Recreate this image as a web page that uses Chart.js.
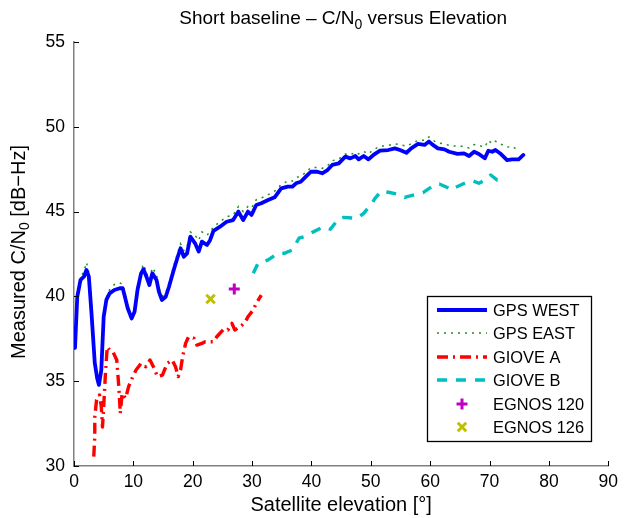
<!DOCTYPE html>
<html><head><meta charset="utf-8">
<script src="https://cdn.jsdelivr.net/npm/chart.js@4/dist/chart.umd.min.js"></script>
<style>html,body{margin:0;padding:0;background:#fff}</style>
</head><body><canvas id="c" width="624" height="518"></canvas>
<script>
// ---- data (elevation in degrees, C/N0 in dB-Hz) ----
const westElev = [0.17,0.55,1.1,1.67,2.1,2.5,2.95,3.5,3.9,4.2,4.6,5.0,5.45,6.0,6.8,7.7,8.2,8.5,9.05,9.7,10.2,10.7,11.3,11.7,12.2,12.7,13.2,13.9,14.3,14.8,15.45,16.0,16.8,17.4,17.95,18.5,19.05,19.6,20.4,21.0,21.55,22.4,22.9,23.5,24.6,25.7,26.8,27.7,28.5,29.3,29.9,30.7,31.55,32.7,33.8,34.9,36.0,36.8,37.4,38.2,39.05,39.9,41.0,41.8,42.7,43.5,44.6,45.7,46.55,47.4,47.95,48.8,49.6,50.45,51.55,52.95,54.05,54.9,56.0,56.8,57.95,59.05,59.8,60.45,61.3,62.4,63.2,64.6,65.7,66.55,67.4,68.2,69.2,69.8,70.45,71.0,71.8,72.95,73.8,74.9,75.7];
const westCN0 = [36.96,39.98,40.97,41.16,41.56,41.16,39.0,36.07,35.17,34.78,35.66,38.8,39.79,40.18,40.38,40.48,40.48,40.08,39.3,38.7,39.1,40.38,41.36,41.6,41.16,40.67,41.36,40.97,40.28,39.79,39.98,40.57,41.56,42.25,42.84,42.34,42.54,43.52,43.13,42.64,43.23,43.03,43.3,43.87,44.11,44.4,44.5,45.0,44.5,45.0,44.8,45.39,45.49,45.68,45.84,46.37,46.47,46.47,46.67,46.76,47.06,47.35,47.35,47.26,47.45,47.75,47.84,48.24,48.14,48.28,48.08,48.28,48.08,48.34,48.59,48.63,48.73,48.63,48.47,48.73,48.99,48.93,49.13,48.93,48.73,48.67,48.53,48.4,48.43,48.28,48.53,48.4,48.14,48.59,48.53,48.63,48.43,48.04,48.08,48.08,48.34];

const eastElev = [0.2,0.6,1.1,1.7,2.1,2.5,3.0,3.5,3.9,4.2,4.6,5.0,5.5,6.0,6.8,7.7,8.2,8.5,9.0,9.7,10.2,10.7,11.3,11.7,12.2,12.7,13.2,13.9,14.3,14.8,15.45,16.0,16.8,17.4,17.95,18.5,19.05,19.6,20.4,21.0,21.55,22.4,22.9,23.5,24.6,25.7,26.8,27.7,28.5,29.3,29.9,30.7,31.55,32.7,33.8,34.9,36.0,36.8,37.4,38.2,39.05,39.9,41.0,41.8,42.7,43.5,44.6,45.7,46.55,47.4,47.95,48.8,49.6,50.45,51.55,52.95,54.05,54.9,56.0,56.8,57.95,59.05,59.8,60.45,61.3,62.4,63.2,64.6,65.7,66.55,67.4,68.2,69.2,69.8,70.45,71.0,71.8,72.95,73.8,74.9];
const eastCN0 = [37.2,40.2,41.1,41.5,42.0,41.4,39.2,36.2,35.3,35.0,35.8,39.0,40.0,40.4,40.7,40.8,40.7,40.3,39.5,38.9,39.3,40.6,41.5,41.9,41.4,41.0,41.7,41.3,40.5,40.0,40.2,40.8,41.8,42.5,43.1,42.7,42.9,43.8,43.6,43.3,43.8,43.6,43.8,44.1,44.4,44.7,44.8,45.3,45.0,45.3,45.2,45.7,45.8,46.0,46.2,46.6,46.8,46.8,47.0,47.1,47.3,47.6,47.6,47.55,47.7,48.0,48.1,48.4,48.35,48.5,48.4,48.55,48.4,48.65,48.85,48.9,49.0,48.95,48.85,49.0,49.2,49.2,49.4,49.2,49.05,49.0,48.9,48.85,48.85,48.75,48.95,48.9,48.8,49.2,49.0,49.15,49.0,48.8,48.85,48.6];

const gioveAElev = [3.33,3.5,3.5,3.8,4.3,4.6,4.8,5.0,5.3,5.6,6.0,6.55,7.2,7.55,7.8,8.1,8.7,9.2,9.9,10.45,11.3,12.1,12.8,13.5,14.05,14.9,15.7,16.55,17.1,17.55,17.95,18.3,18.8,19.3,20.2,20.7,21.55,22.1,23.5,24.05,25.2,25.9,26.6,27.1,27.95,28.8,29.3,30.2,30.7,31.55];
const gioveACN0 = [30.55,31.73,32.9,33.9,34.19,33.5,32.3,33.5,35.47,37.03,36.84,36.74,36.25,34.68,33.1,34.28,33.99,34.68,35.27,35.66,36.05,35.85,36.25,35.76,35.27,35.36,36.05,36.25,35.85,35.27,35.66,36.44,37.23,37.62,37.53,37.13,37.23,37.33,37.33,37.62,38.06,38.02,38.41,38.02,38.21,38.45,38.8,39.2,39.59,40.08];

const gioveBElev = [30.2,31.0,32.7,34.3,35.4,36.8,37.9,38.8,40.4,42.1,43.2,44.6,45.4,47.7,48.8,50.2,50.7,51.8,52.95,54.6,55.7,57.7,58.8,60.7,61.55,63.2,63.8,64.3,66.3,67.1,68.2,69.3,70.2,71.3,72.1];
const gioveBCN0 = [41.36,41.95,42.15,42.54,42.54,42.74,43.43,43.52,43.82,44.11,43.96,44.6,44.66,44.6,44.9,45.49,45.78,46.23,46.14,46.02,45.84,46.02,46.12,46.57,46.63,46.37,46.27,46.43,46.76,46.82,46.67,46.86,47.16,46.86,46.86];

const egnos120Elev = [27.0];
const egnos120CN0 = [40.44];
const egnos126Elev = [23.0];
const egnos126CN0 = [39.85];

const xTickValues = [0,10,20,30,40,50,60,70,80,90];
const yTickValues = [30,35,40,45,50,55];
const seriesNames = ['GPS WEST','GPS EAST','GIOVE A','GIOVE B','EGNOS 120','EGNOS 126'];

const pts = (xs, ys) => xs.map((x, i) => ({x: x, y: ys[i]}));
const FONT = "'Liberation Sans', Arial, Helvetica, sans-serif";
Chart.defaults.font.family = FONT;

const datasets = [
  {label: seriesNames[0], data: pts(westElev, westCN0), showLine: true, borderColor: '#0000ff', borderWidth: 3.8, borderJoinStyle: 'round', borderCapStyle: 'round', pointRadius: 0, order: 1},
  {label: seriesNames[1], data: pts(eastElev, eastCN0), showLine: true, borderColor: '#1f8f1f', borderWidth: 1.5, borderDash: [2, 5], pointRadius: 0, order: 2},
  {label: seriesNames[2], data: pts(gioveAElev, gioveACN0), showLine: true, borderColor: '#ff0000', borderWidth: 3.4, borderJoinStyle: 'round', borderDash: [11, 5, 2, 5], pointRadius: 0, order: 3},
  {label: seriesNames[3], data: pts(gioveBElev, gioveBCN0), showLine: true, borderColor: '#00bfbf', borderWidth: 3.4, borderJoinStyle: 'round', borderDash: [10, 9], pointRadius: 0, order: 4},
  {label: seriesNames[4], data: pts(egnos120Elev, egnos120CN0), showLine: false, borderColor: '#bf00bf', backgroundColor: '#bf00bf', pointStyle: 'cross', pointRadius: 5.5, borderWidth: 3, order: 5},
  {label: seriesNames[5], data: pts(egnos126Elev, egnos126CN0), showLine: false, borderColor: '#bfbf00', backgroundColor: '#bfbf00', pointStyle: 'crossRot', pointRadius: 6, borderWidth: 3, order: 6}
];

function measureRich(ctx, parts, size) {
  let w = 0;
  parts.forEach(p => {
    ctx.font = (p.sub ? Math.round(size * 0.72) : size) + 'px ' + FONT;
    w += ctx.measureText(p.t).width;
  });
  return w;
}
function paintRich(ctx, parts, size, x, y) {
  parts.forEach(p => {
    const s = p.sub ? Math.round(size * 0.72) : size;
    ctx.font = s + 'px ' + FONT;
    ctx.fillText(p.t, x, p.sub ? y + size * 0.3 : y);
    x += ctx.measureText(p.t).width;
  });
}

const decor = {
  id: 'decor',
  afterDraw(chart) {
    const ctx = chart.ctx, xs = chart.scales.x, ys = chart.scales.y, ca = chart.chartArea;
    ctx.save();
    // inward tick marks
    ctx.strokeStyle = '#000'; ctx.lineWidth = 1;
    xTickValues.forEach(v => {
      const px = Math.round(xs.getPixelForValue(v)) + 0.5;
      ctx.beginPath(); ctx.moveTo(px, ca.bottom); ctx.lineTo(px, ca.bottom - 5); ctx.stroke();
    });
    yTickValues.forEach(v => {
      const py = Math.round(ys.getPixelForValue(v)) + 0.5;
      ctx.beginPath(); ctx.moveTo(ca.left, py); ctx.lineTo(ca.left + 5, py); ctx.stroke();
    });
    ctx.fillStyle = '#000';
    ctx.textBaseline = 'middle';
    ctx.textAlign = 'left';
    // title
    const titleParts = [{t: 'Short baseline \u2013 C/N'}, {t: '0', sub: true}, {t: ' versus Elevation'}];
    const tw = measureRich(ctx, titleParts, 19);
    paintRich(ctx, titleParts, 19, (ca.left + ca.right) / 2 - tw / 2 + 2, 19);
    // x label
    ctx.font = '20px ' + FONT; ctx.textAlign = 'center';
    ctx.fillText('Satellite elevation [\u00b0]', (ca.left + ca.right) / 2, 505);
    // y label
    ctx.textAlign = 'left';
    const yParts = [{t: 'Measured C/N'}, {t: '0', sub: true}, {t: ' [dB\u2212Hz]'}];
    const yw = measureRich(ctx, yParts, 20);
    ctx.save();
    ctx.translate(19, (ca.top + ca.bottom) / 2 - 2);
    ctx.rotate(-Math.PI / 2);
    paintRich(ctx, yParts, 20, -yw / 2, 0);
    ctx.restore();
    // legend box
    const bx = 427.5, by = 296.5, bw = 164, bh = 145;
    ctx.fillStyle = '#fff'; ctx.fillRect(bx, by, bw, bh);
    ctx.strokeStyle = '#000'; ctx.lineWidth = 1.3; ctx.strokeRect(bx, by, bw, bh);
    const rowY = [310, 333, 357, 380, 404, 427];
    chart.data.datasets.forEach((ds, i) => {
      const y = rowY[i];
      ctx.save();
      ctx.strokeStyle = ds.borderColor; ctx.lineWidth = ds.borderWidth;
      ctx.beginPath();
      if (ds.showLine) {
        ctx.setLineDash(ds.borderDash || []);
        ctx.moveTo(437, y); ctx.lineTo(487, y);
      } else {
        const r = ds.pointRadius;
        if (ds.pointStyle === 'cross') { ctx.moveTo(462 - r, y); ctx.lineTo(462 + r, y); ctx.moveTo(462, y - r); ctx.lineTo(462, y + r); }
        else { const d = r * 0.7071; ctx.moveTo(462 - d, y - d); ctx.lineTo(462 + d, y + d); ctx.moveTo(462 + d, y - d); ctx.lineTo(462 - d, y + d); }
      }
      ctx.stroke();
      ctx.restore();
      ctx.fillStyle = '#000'; ctx.font = '16.4px ' + FONT; ctx.textAlign = 'left'; ctx.textBaseline = 'middle';
      ctx.fillText(ds.label, 493, y + 1);
    });
    ctx.restore();
  }
};

new Chart(document.getElementById('c'), {
  type: 'scatter',
  data: {datasets: datasets},
  plugins: [decor],
  options: {
    responsive: false,
    animation: false,
    layout: {padding: {top: 42, right: 10, left: 0, bottom: 0}},
    plugins: {legend: {display: false}, tooltip: {enabled: false}, title: {display: false}},
    scales: {
      x: {
        type: 'linear', min: 0, max: 90,
        afterBuildTicks: s => { s.ticks = xTickValues.map(v => ({value: v})); },
        afterFit: s => { s.height = 52; },
        grid: {display: false, drawTicks: false},
        border: {display: true, color: '#808080', width: 1.5},
        ticks: {color: '#000', font: {size: 17.5, family: FONT}, padding: 6, maxRotation: 0}
      },
      y: {
        type: 'linear', min: 30, max: 55,
        afterBuildTicks: s => { s.ticks = yTickValues.map(v => ({value: v})); },
        afterFit: s => { s.width = 74; },
        grid: {display: false, drawTicks: false},
        border: {display: true, color: '#808080', width: 1.5},
        ticks: {color: '#000', font: {size: 17.5, family: FONT}, padding: 9}
      }
    }
  }
});
</script>
</body></html>
